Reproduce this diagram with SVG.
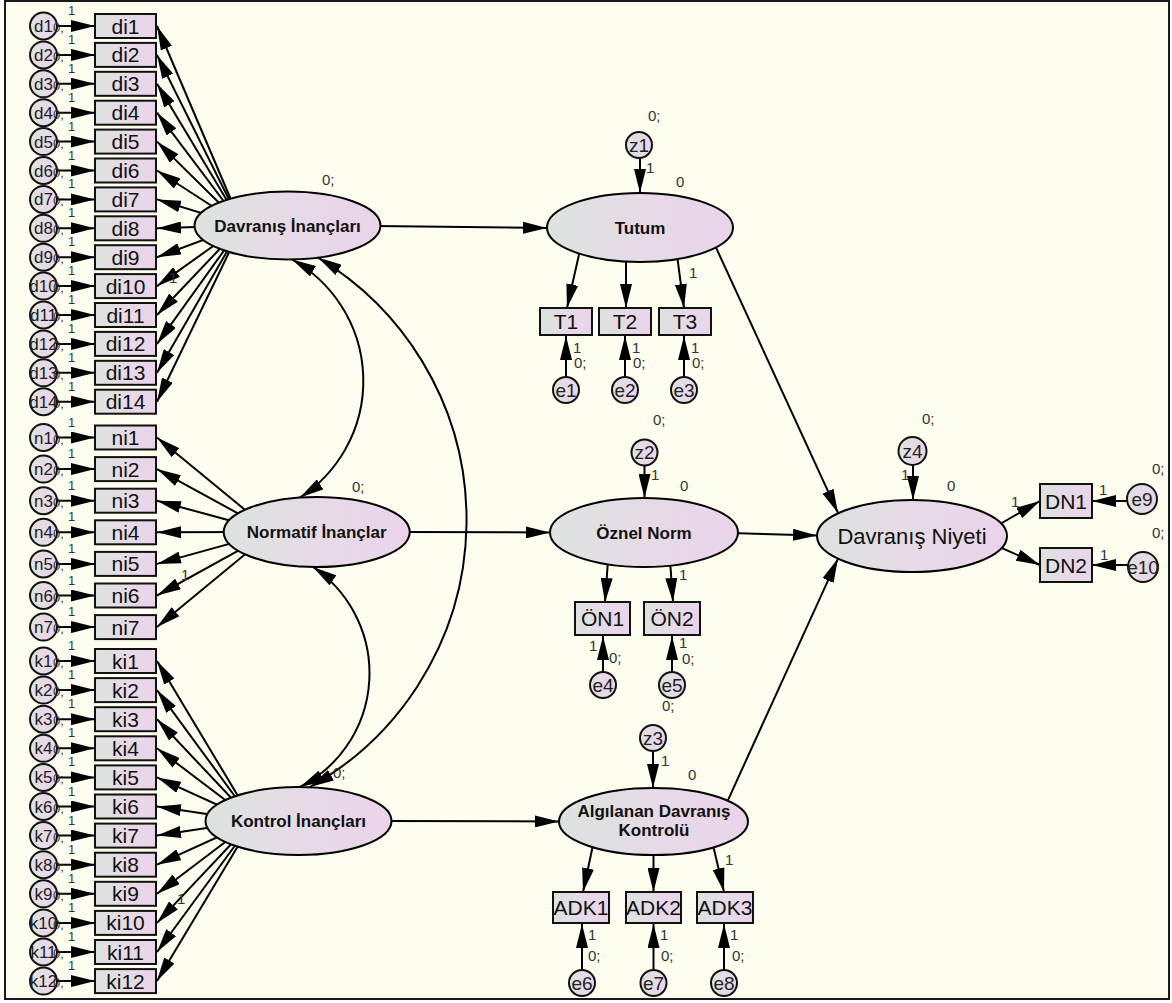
<svg xmlns="http://www.w3.org/2000/svg" width="1172" height="1003" viewBox="0 0 1172 1003">
<defs>
  <linearGradient id="g" x1="0" y1="0" x2="1" y2="0">
    <stop offset="0" stop-color="#DCE3DF"/>
    <stop offset="0.55" stop-color="#E6DAE6"/>
    <stop offset="1" stop-color="#EBD3EA"/>
  </linearGradient>
  <marker id="ah" viewBox="0 0 24 12" refX="24" refY="6" markerWidth="24" markerHeight="12" markerUnits="userSpaceOnUse" orient="auto">
    <path d="M0,0 L24,6 L0,12 z" fill="#000"/>
  </marker>
  <marker id="ah2" viewBox="0 0 24 12" refX="24" refY="6" markerWidth="24" markerHeight="12" markerUnits="userSpaceOnUse" orient="auto-start-reverse">
    <path d="M0,0 L24,6 L0,12 z" fill="#000"/>
  </marker>
  <style>
    .ln { stroke:#000; stroke-width:2; fill:none; marker-end:url(#ah); }
    .cv { stroke:#000; stroke-width:2; fill:none; marker-start:url(#ah2); marker-end:url(#ah2); }
    .box { fill:url(#g); stroke:#111; stroke-width:2; }
    .ell { fill:url(#g); stroke:#000; stroke-width:2; }
    .cir { fill:url(#g); stroke:#111; stroke-width:2; }
    text { font-family:"Liberation Sans", Arial, sans-serif; }
    .lab { font-size:21px; text-anchor:middle; fill:#111; }
    .lat { font-size:17px; font-weight:bold; text-anchor:middle; fill:#111; }
    .cl { font-size:17px; text-anchor:middle; fill:#222; }
    .el { font-size:19px; text-anchor:middle; fill:#222; }
    .sm { font-size:15px; fill:#333; }
    .s1 { font-size:13px; fill:#333; }
  </style>
</defs>

<!-- canvas and frame -->
<rect x="0" y="0" width="1172" height="1003" fill="#ffffff"/>
<rect x="5" y="1" width="1164" height="998" fill="#FEFEF0" stroke="#1a1a1a" stroke-width="2"/>

<!-- paths -->
<g id="connectors">
  <!-- error terms into indicators, left column -->
  <line class="ln" x1="57" y1="26" x2="95" y2="26"/>
  <line class="ln" x1="57" y1="54.9" x2="95" y2="54.9"/>
  <line class="ln" x1="57" y1="83.8" x2="95" y2="83.8"/>
  <line class="ln" x1="57" y1="112.7" x2="95" y2="112.7"/>
  <line class="ln" x1="57" y1="141.6" x2="95" y2="141.6"/>
  <line class="ln" x1="57" y1="170.5" x2="95" y2="170.5"/>
  <line class="ln" x1="57" y1="199.4" x2="95" y2="199.4"/>
  <line class="ln" x1="57" y1="228.3" x2="95" y2="228.3"/>
  <line class="ln" x1="57" y1="257.2" x2="95" y2="257.2"/>
  <line class="ln" x1="57" y1="286.1" x2="95" y2="286.1"/>
  <line class="ln" x1="57" y1="315" x2="95" y2="315"/>
  <line class="ln" x1="57" y1="343.9" x2="95" y2="343.9"/>
  <line class="ln" x1="57" y1="372.8" x2="95" y2="372.8"/>
  <line class="ln" x1="57" y1="401.7" x2="95" y2="401.7"/>
  <line class="ln" x1="57" y1="437.5" x2="95" y2="437.5"/>
  <line class="ln" x1="57" y1="469.1" x2="95" y2="469.1"/>
  <line class="ln" x1="57" y1="500.7" x2="95" y2="500.7"/>
  <line class="ln" x1="57" y1="532.3" x2="95" y2="532.3"/>
  <line class="ln" x1="57" y1="563.9" x2="95" y2="563.9"/>
  <line class="ln" x1="57" y1="595.5" x2="95" y2="595.5"/>
  <line class="ln" x1="57" y1="627.1" x2="95" y2="627.1"/>
  <line class="ln" x1="57" y1="661" x2="95" y2="661"/>
  <line class="ln" x1="57" y1="690.1" x2="95" y2="690.1"/>
  <line class="ln" x1="57" y1="719.2" x2="95" y2="719.2"/>
  <line class="ln" x1="57" y1="748.3" x2="95" y2="748.3"/>
  <line class="ln" x1="57" y1="777.4" x2="95" y2="777.4"/>
  <line class="ln" x1="57" y1="806.5" x2="95" y2="806.5"/>
  <line class="ln" x1="57" y1="835.6" x2="95" y2="835.6"/>
  <line class="ln" x1="57" y1="864.7" x2="95" y2="864.7"/>
  <line class="ln" x1="57" y1="893.8" x2="95" y2="893.8"/>
  <line class="ln" x1="57" y1="922.9" x2="95" y2="922.9"/>
  <line class="ln" x1="57" y1="952" x2="95" y2="952"/>
  <line class="ln" x1="57" y1="981.1" x2="95" y2="981.1"/>

  <!-- Davranış İnançları loadings -->
  <line class="ln" x1="242" y1="225.5" x2="157" y2="26"/>
  <line class="ln" x1="242" y1="225.5" x2="157" y2="54.9"/>
  <line class="ln" x1="242" y1="225.5" x2="157" y2="83.8"/>
  <line class="ln" x1="242" y1="225.5" x2="157" y2="112.7"/>
  <line class="ln" x1="242" y1="225.5" x2="157" y2="141.6"/>
  <line class="ln" x1="242" y1="225.5" x2="157" y2="170.5"/>
  <line class="ln" x1="242" y1="225.5" x2="157" y2="199.4"/>
  <line class="ln" x1="242" y1="225.5" x2="157" y2="228.3"/>
  <line class="ln" x1="242" y1="225.5" x2="157" y2="257.2"/>
  <line class="ln" x1="242" y1="225.5" x2="157" y2="286.1"/>
  <line class="ln" x1="242" y1="225.5" x2="157" y2="315"/>
  <line class="ln" x1="242" y1="225.5" x2="157" y2="343.9"/>
  <line class="ln" x1="242" y1="225.5" x2="157" y2="372.8"/>
  <line class="ln" x1="242" y1="225.5" x2="157" y2="401.7"/>

  <!-- Normatif İnançlar loadings -->
  <line class="ln" x1="272" y1="532" x2="157" y2="437.5"/>
  <line class="ln" x1="272" y1="532" x2="157" y2="469.1"/>
  <line class="ln" x1="272" y1="532" x2="157" y2="500.7"/>
  <line class="ln" x1="272" y1="532" x2="157" y2="532.3"/>
  <line class="ln" x1="272" y1="532" x2="157" y2="563.9"/>
  <line class="ln" x1="272" y1="532" x2="157" y2="595.5"/>
  <line class="ln" x1="272" y1="532" x2="157" y2="627.1"/>

  <!-- Kontrol İnançları loadings -->
  <line class="ln" x1="253" y1="821" x2="157" y2="661"/>
  <line class="ln" x1="253" y1="821" x2="157" y2="690.1"/>
  <line class="ln" x1="253" y1="821" x2="157" y2="719.2"/>
  <line class="ln" x1="253" y1="821" x2="157" y2="748.3"/>
  <line class="ln" x1="253" y1="821" x2="157" y2="777.4"/>
  <line class="ln" x1="253" y1="821" x2="157" y2="806.5"/>
  <line class="ln" x1="253" y1="821" x2="157" y2="835.6"/>
  <line class="ln" x1="253" y1="821" x2="157" y2="864.7"/>
  <line class="ln" x1="253" y1="821" x2="157" y2="893.8"/>
  <line class="ln" x1="253" y1="821" x2="157" y2="922.9"/>
  <line class="ln" x1="253" y1="821" x2="157" y2="952"/>
  <line class="ln" x1="253" y1="821" x2="157" y2="981.1"/>

  <!-- covariances -->
  <path class="cv" d="M292,259.5 A139,139 0 0 1 300,497.5"/>
  <path class="cv" d="M318,257.6 A306,306 0 0 1 310,787"/>
  <path class="cv" d="M313,567 A128,128 0 0 1 300,787"/>

  <!-- structural paths -->
  <line class="ln" x1="375" y1="226" x2="547" y2="228"/>
  <line class="ln" x1="405" y1="532" x2="550" y2="532.5"/>
  <line class="ln" x1="385" y1="821" x2="559" y2="821.5"/>
  <line class="ln" x1="713" y1="241" x2="838" y2="513"/>
  <line class="ln" x1="730" y1="533" x2="817" y2="535.5"/>
  <line class="ln" x1="724.7" y1="807.3" x2="838" y2="558.6"/>

  <!-- Tutum measurement -->
  <line class="ln" x1="640" y1="158" x2="640" y2="193"/>
  <line class="ln" x1="580" y1="250" x2="567" y2="308"/>
  <line class="ln" x1="626" y1="255" x2="626" y2="308"/>
  <line class="ln" x1="677" y1="255" x2="684" y2="308"/>
  <line class="ln" x1="566" y1="377" x2="566" y2="336"/>
  <line class="ln" x1="625" y1="377" x2="625" y2="336"/>
  <line class="ln" x1="684" y1="377" x2="684" y2="336"/>

  <!-- Öznel Norm measurement -->
  <line class="ln" x1="644.5" y1="465.5" x2="644.5" y2="498"/>
  <line class="ln" x1="608" y1="560" x2="605" y2="602"/>
  <line class="ln" x1="670" y1="560" x2="673" y2="602"/>
  <line class="ln" x1="603" y1="672" x2="603" y2="636"/>
  <line class="ln" x1="672" y1="672" x2="672" y2="636"/>

  <!-- Algılanan Davranış Kontrolü measurement -->
  <line class="ln" x1="653" y1="751" x2="653" y2="788"/>
  <line class="ln" x1="593" y1="845" x2="583" y2="892"/>
  <line class="ln" x1="653.5" y1="850" x2="653.5" y2="892"/>
  <line class="ln" x1="713" y1="845" x2="724" y2="892"/>
  <line class="ln" x1="582" y1="970" x2="582" y2="924"/>
  <line class="ln" x1="653.5" y1="970" x2="653.5" y2="924"/>
  <line class="ln" x1="724" y1="970" x2="724" y2="924"/>

  <!-- Davranış Niyeti measurement -->
  <line class="ln" x1="913" y1="465" x2="913" y2="500"/>
  <line class="ln" x1="995" y1="527" x2="1040" y2="501"/>
  <line class="ln" x1="995" y1="545" x2="1040" y2="565"/>
  <line class="ln" x1="1127" y1="501" x2="1092" y2="501"/>
  <line class="ln" x1="1128" y1="565" x2="1092" y2="565"/>
</g>

<!-- latent variables -->
<g id="davranis-inanclari"><ellipse class="ell" cx="287.5" cy="225.5" rx="93" ry="34"/><text class="lat" x="287.5" y="231.5">Davranış İnançları</text></g>
<g id="normatif-inanclar"><ellipse class="ell" cx="316.7" cy="532" rx="93" ry="35"/><text class="lat" x="316.7" y="538">Normatif İnançlar</text></g>
<g id="kontrol-inanclari"><ellipse class="ell" cx="298.5" cy="821" rx="93" ry="34"/><text class="lat" x="298.5" y="827">Kontrol İnançları</text></g>
<g id="tutum"><ellipse class="ell" cx="640" cy="227.5" rx="93" ry="34.5"/><text class="lat" x="640" y="233.5">Tutum</text></g>
<g id="oznel-norm"><ellipse class="ell" cx="644" cy="532.5" rx="94" ry="34.5"/><text class="lat" x="644" y="538.5">Öznel Norm</text></g>
<g id="adk"><ellipse class="ell" cx="653.5" cy="821.5" rx="94.5" ry="33.5"/><text class="lat" x="654" y="817">Algılanan Davranış</text><text class="lat" x="654" y="836">Kontrolü</text></g>
<g id="davranis-niyeti"><ellipse class="ell" cx="912" cy="536" rx="95" ry="36"/><text class="lab" x="912" y="543.5" style="font-size:22px">Davranış Niyeti</text></g>

<!-- Davranış İnançları indicators -->
<g id="di1"><rect class="box" x="95" y="14" width="61" height="24"/><text class="lab" x="125.5" y="33.5">di1</text></g>
<g id="di2"><rect class="box" x="95" y="42.9" width="61" height="24"/><text class="lab" x="125.5" y="62.4">di2</text></g>
<g id="di3"><rect class="box" x="95" y="71.8" width="61" height="24"/><text class="lab" x="125.5" y="91.3">di3</text></g>
<g id="di4"><rect class="box" x="95" y="100.7" width="61" height="24"/><text class="lab" x="125.5" y="120.2">di4</text></g>
<g id="di5"><rect class="box" x="95" y="129.6" width="61" height="24"/><text class="lab" x="125.5" y="149.1">di5</text></g>
<g id="di6"><rect class="box" x="95" y="158.5" width="61" height="24"/><text class="lab" x="125.5" y="178">di6</text></g>
<g id="di7"><rect class="box" x="95" y="187.4" width="61" height="24"/><text class="lab" x="125.5" y="206.9">di7</text></g>
<g id="di8"><rect class="box" x="95" y="216.3" width="61" height="24"/><text class="lab" x="125.5" y="235.8">di8</text></g>
<g id="di9"><rect class="box" x="95" y="245.2" width="61" height="24"/><text class="lab" x="125.5" y="264.7">di9</text></g>
<g id="di10"><rect class="box" x="95" y="274.1" width="61" height="24"/><text class="lab" x="125.5" y="293.6">di10</text></g>
<g id="di11"><rect class="box" x="95" y="303" width="61" height="24"/><text class="lab" x="125.5" y="322.5">di11</text></g>
<g id="di12"><rect class="box" x="95" y="331.9" width="61" height="24"/><text class="lab" x="125.5" y="351.4">di12</text></g>
<g id="di13"><rect class="box" x="95" y="360.8" width="61" height="24"/><text class="lab" x="125.5" y="380.3">di13</text></g>
<g id="di14"><rect class="box" x="95" y="389.7" width="61" height="24"/><text class="lab" x="125.5" y="409.2">di14</text></g>

<!-- Normatif İnançlar indicators -->
<g id="ni1"><rect class="box" x="95" y="425.5" width="61" height="24"/><text class="lab" x="125.5" y="445">ni1</text></g>
<g id="ni2"><rect class="box" x="95" y="457.1" width="61" height="24"/><text class="lab" x="125.5" y="476.6">ni2</text></g>
<g id="ni3"><rect class="box" x="95" y="488.7" width="61" height="24"/><text class="lab" x="125.5" y="508.2">ni3</text></g>
<g id="ni4"><rect class="box" x="95" y="520.3" width="61" height="24"/><text class="lab" x="125.5" y="539.8">ni4</text></g>
<g id="ni5"><rect class="box" x="95" y="551.9" width="61" height="24"/><text class="lab" x="125.5" y="571.4">ni5</text></g>
<g id="ni6"><rect class="box" x="95" y="583.5" width="61" height="24"/><text class="lab" x="125.5" y="603">ni6</text></g>
<g id="ni7"><rect class="box" x="95" y="615.1" width="61" height="24"/><text class="lab" x="125.5" y="634.6">ni7</text></g>

<!-- Kontrol İnançları indicators -->
<g id="ki1"><rect class="box" x="95" y="649" width="61" height="24"/><text class="lab" x="125.5" y="668.5">ki1</text></g>
<g id="ki2"><rect class="box" x="95" y="678.1" width="61" height="24"/><text class="lab" x="125.5" y="697.6">ki2</text></g>
<g id="ki3"><rect class="box" x="95" y="707.2" width="61" height="24"/><text class="lab" x="125.5" y="726.7">ki3</text></g>
<g id="ki4"><rect class="box" x="95" y="736.3" width="61" height="24"/><text class="lab" x="125.5" y="755.8">ki4</text></g>
<g id="ki5"><rect class="box" x="95" y="765.4" width="61" height="24"/><text class="lab" x="125.5" y="784.9">ki5</text></g>
<g id="ki6"><rect class="box" x="95" y="794.5" width="61" height="24"/><text class="lab" x="125.5" y="814">ki6</text></g>
<g id="ki7"><rect class="box" x="95" y="823.6" width="61" height="24"/><text class="lab" x="125.5" y="843.1">ki7</text></g>
<g id="ki8"><rect class="box" x="95" y="852.7" width="61" height="24"/><text class="lab" x="125.5" y="872.2">ki8</text></g>
<g id="ki9"><rect class="box" x="95" y="881.8" width="61" height="24"/><text class="lab" x="125.5" y="901.3">ki9</text></g>
<g id="ki10"><rect class="box" x="95" y="910.9" width="61" height="24"/><text class="lab" x="125.5" y="930.4">ki10</text></g>
<g id="ki11"><rect class="box" x="95" y="940" width="61" height="24"/><text class="lab" x="125.5" y="959.5">ki11</text></g>
<g id="ki12"><rect class="box" x="95" y="969.1" width="61" height="24"/><text class="lab" x="125.5" y="988.6">ki12</text></g>

<!-- left-column error terms -->
<g id="d1"><circle class="cir" cx="43.5" cy="26" r="13.5"/><text class="cl" x="43.5" y="32">d1</text></g>
<g id="d2"><circle class="cir" cx="43.5" cy="54.9" r="13.5"/><text class="cl" x="43.5" y="60.9">d2</text></g>
<g id="d3"><circle class="cir" cx="43.5" cy="83.8" r="13.5"/><text class="cl" x="43.5" y="89.8">d3</text></g>
<g id="d4"><circle class="cir" cx="43.5" cy="112.7" r="13.5"/><text class="cl" x="43.5" y="118.7">d4</text></g>
<g id="d5"><circle class="cir" cx="43.5" cy="141.6" r="13.5"/><text class="cl" x="43.5" y="147.6">d5</text></g>
<g id="d6"><circle class="cir" cx="43.5" cy="170.5" r="13.5"/><text class="cl" x="43.5" y="176.5">d6</text></g>
<g id="d7"><circle class="cir" cx="43.5" cy="199.4" r="13.5"/><text class="cl" x="43.5" y="205.4">d7</text></g>
<g id="d8"><circle class="cir" cx="43.5" cy="228.3" r="13.5"/><text class="cl" x="43.5" y="234.3">d8</text></g>
<g id="d9"><circle class="cir" cx="43.5" cy="257.2" r="13.5"/><text class="cl" x="43.5" y="263.2">d9</text></g>
<g id="d10"><circle class="cir" cx="43.5" cy="286.1" r="13.5"/><text class="cl" x="43.5" y="292.1">d10</text></g>
<g id="d11"><circle class="cir" cx="43.5" cy="315" r="13.5"/><text class="cl" x="43.5" y="321">d11</text></g>
<g id="d12"><circle class="cir" cx="43.5" cy="343.9" r="13.5"/><text class="cl" x="43.5" y="349.9">d12</text></g>
<g id="d13"><circle class="cir" cx="43.5" cy="372.8" r="13.5"/><text class="cl" x="43.5" y="378.8">d13</text></g>
<g id="d14"><circle class="cir" cx="43.5" cy="401.7" r="13.5"/><text class="cl" x="43.5" y="407.7">d14</text></g>
<g id="n1"><circle class="cir" cx="43.5" cy="437.5" r="13.5"/><text class="cl" x="43.5" y="443.5">n1</text></g>
<g id="n2"><circle class="cir" cx="43.5" cy="469.1" r="13.5"/><text class="cl" x="43.5" y="475.1">n2</text></g>
<g id="n3"><circle class="cir" cx="43.5" cy="500.7" r="13.5"/><text class="cl" x="43.5" y="506.7">n3</text></g>
<g id="n4"><circle class="cir" cx="43.5" cy="532.3" r="13.5"/><text class="cl" x="43.5" y="538.3">n4</text></g>
<g id="n5"><circle class="cir" cx="43.5" cy="563.9" r="13.5"/><text class="cl" x="43.5" y="569.9">n5</text></g>
<g id="n6"><circle class="cir" cx="43.5" cy="595.5" r="13.5"/><text class="cl" x="43.5" y="601.5">n6</text></g>
<g id="n7"><circle class="cir" cx="43.5" cy="627.1" r="13.5"/><text class="cl" x="43.5" y="633.1">n7</text></g>
<g id="k1"><circle class="cir" cx="43.5" cy="661" r="13.5"/><text class="cl" x="43.5" y="667">k1</text></g>
<g id="k2"><circle class="cir" cx="43.5" cy="690.1" r="13.5"/><text class="cl" x="43.5" y="696.1">k2</text></g>
<g id="k3"><circle class="cir" cx="43.5" cy="719.2" r="13.5"/><text class="cl" x="43.5" y="725.2">k3</text></g>
<g id="k4"><circle class="cir" cx="43.5" cy="748.3" r="13.5"/><text class="cl" x="43.5" y="754.3">k4</text></g>
<g id="k5"><circle class="cir" cx="43.5" cy="777.4" r="13.5"/><text class="cl" x="43.5" y="783.4">k5</text></g>
<g id="k6"><circle class="cir" cx="43.5" cy="806.5" r="13.5"/><text class="cl" x="43.5" y="812.5">k6</text></g>
<g id="k7"><circle class="cir" cx="43.5" cy="835.6" r="13.5"/><text class="cl" x="43.5" y="841.6">k7</text></g>
<g id="k8"><circle class="cir" cx="43.5" cy="864.7" r="13.5"/><text class="cl" x="43.5" y="870.7">k8</text></g>
<g id="k9"><circle class="cir" cx="43.5" cy="893.8" r="13.5"/><text class="cl" x="43.5" y="899.8">k9</text></g>
<g id="k10"><circle class="cir" cx="43.5" cy="922.9" r="13.5"/><text class="cl" x="43.5" y="928.9">k10</text></g>
<g id="k11"><circle class="cir" cx="43.5" cy="952" r="13.5"/><text class="cl" x="43.5" y="958">k11</text></g>
<g id="k12"><circle class="cir" cx="43.5" cy="981.1" r="13.5"/><text class="cl" x="43.5" y="987.1">k12</text></g>

<!-- right-side indicators -->
<g id="T1"><rect class="box" x="540" y="308" width="52" height="27"/><text class="lab" x="566" y="329">T1</text></g>
<g id="T2"><rect class="box" x="599" y="308" width="52" height="27"/><text class="lab" x="625" y="329">T2</text></g>
<g id="T3"><rect class="box" x="659" y="308" width="52" height="27"/><text class="lab" x="685" y="329">T3</text></g>
<g id="ON1"><rect class="box" x="575" y="602" width="55" height="33"/><text class="lab" x="602.5" y="626">ÖN1</text></g>
<g id="ON2"><rect class="box" x="644" y="602" width="56" height="33"/><text class="lab" x="672" y="626">ÖN2</text></g>
<g id="ADK1"><rect class="box" x="553" y="892" width="56" height="31"/><text class="lab" x="581" y="915">ADK1</text></g>
<g id="ADK2"><rect class="box" x="626" y="892" width="55" height="31"/><text class="lab" x="653.5" y="915">ADK2</text></g>
<g id="ADK3"><rect class="box" x="697" y="892" width="56" height="31"/><text class="lab" x="725" y="915">ADK3</text></g>
<g id="DN1"><rect class="box" x="1040" y="484" width="52" height="34"/><text class="lab" x="1066" y="508.5">DN1</text></g>
<g id="DN2"><rect class="box" x="1040" y="548" width="52" height="34"/><text class="lab" x="1066" y="572.5">DN2</text></g>

<!-- disturbances and errors -->
<g id="z1"><circle class="cir" cx="639" cy="145" r="13"/><text class="el" x="639" y="151.5">z1</text></g>
<g id="z2"><circle class="cir" cx="644.5" cy="452.5" r="13"/><text class="el" x="644.5" y="459">z2</text></g>
<g id="z3"><circle class="cir" cx="653" cy="738" r="13"/><text class="el" x="653" y="744.5">z3</text></g>
<g id="z4"><circle class="cir" cx="912.5" cy="451" r="14"/><text class="el" x="912.5" y="457.5">z4</text></g>
<g id="e1"><circle class="cir" cx="566" cy="390" r="13"/><text class="el" x="566" y="396.5">e1</text></g>
<g id="e2"><circle class="cir" cx="625" cy="390" r="13"/><text class="el" x="625" y="396.5">e2</text></g>
<g id="e3"><circle class="cir" cx="684" cy="390" r="13"/><text class="el" x="684" y="396.5">e3</text></g>
<g id="e4"><circle class="cir" cx="603" cy="685" r="13"/><text class="el" x="603" y="691.5">e4</text></g>
<g id="e5"><circle class="cir" cx="672" cy="685" r="13"/><text class="el" x="672" y="691.5">e5</text></g>
<g id="e6"><circle class="cir" cx="582" cy="983" r="13"/><text class="el" x="582" y="989.5">e6</text></g>
<g id="e7"><circle class="cir" cx="653.5" cy="983" r="13"/><text class="el" x="653.5" y="989.5">e7</text></g>
<g id="e8"><circle class="cir" cx="724" cy="983" r="13"/><text class="el" x="724" y="989.5">e8</text></g>
<g id="e9"><circle class="cir" cx="1142" cy="499" r="15"/><text class="el" x="1142" y="505.5">e9</text></g>
<g id="e10"><circle class="cir" cx="1143" cy="567" r="15"/><text class="el" x="1143" y="573.5">e10</text></g>

<!-- parameter labels -->
<g id="params">
  <!-- left column: variances and fixed loadings -->
  <g class="s1">
    <text x="53" y="32">0;</text><text x="53" y="60.9">0;</text><text x="53" y="89.8">0;</text><text x="53" y="118.7">0;</text>
    <text x="53" y="147.6">0;</text><text x="53" y="176.5">0;</text><text x="53" y="205.4">0;</text><text x="53" y="234.3">0;</text>
    <text x="53" y="263.2">0;</text><text x="53" y="292.1">0;</text><text x="53" y="321">0;</text><text x="53" y="349.9">0;</text>
    <text x="53" y="378.8">0;</text><text x="53" y="407.7">0;</text>
    <text x="53" y="443.5">0;</text><text x="53" y="475.1">0;</text><text x="53" y="506.7">0;</text><text x="53" y="538.3">0;</text>
    <text x="53" y="569.9">0;</text><text x="53" y="601.5">0;</text><text x="53" y="633.1">0;</text>
    <text x="53" y="667">0;</text><text x="53" y="696.1">0;</text><text x="53" y="725.2">0;</text><text x="53" y="754.3">0;</text>
    <text x="53" y="783.4">0;</text><text x="53" y="812.5">0;</text><text x="53" y="841.6">0;</text><text x="53" y="870.7">0;</text>
    <text x="53" y="899.8">0;</text><text x="53" y="928.9">0;</text><text x="53" y="958">0;</text><text x="53" y="987.1">0;</text>

    <text x="68" y="15">1</text><text x="68" y="43.9">1</text><text x="68" y="72.8">1</text><text x="68" y="101.7">1</text>
    <text x="68" y="130.6">1</text><text x="68" y="159.5">1</text><text x="68" y="188.4">1</text><text x="68" y="217.3">1</text>
    <text x="68" y="246.2">1</text><text x="68" y="275.1">1</text><text x="68" y="304">1</text><text x="68" y="332.9">1</text>
    <text x="68" y="361.8">1</text><text x="68" y="390.7">1</text>
    <text x="68" y="426.5">1</text><text x="68" y="458.1">1</text><text x="68" y="489.7">1</text><text x="68" y="521.3">1</text>
    <text x="68" y="552.9">1</text><text x="68" y="584.5">1</text><text x="68" y="616.1">1</text>
    <text x="68" y="650">1</text><text x="68" y="679.1">1</text><text x="68" y="708.2">1</text><text x="68" y="737.3">1</text>
    <text x="68" y="766.4">1</text><text x="68" y="795.5">1</text><text x="68" y="824.6">1</text><text x="68" y="853.7">1</text>
    <text x="68" y="882.8">1</text><text x="68" y="911.9">1</text><text x="68" y="941">1</text><text x="68" y="970.1">1</text>
  </g>

  <g class="sm">
    <!-- exogenous latent variances and fixed loadings -->
    <text x="322" y="185">0;</text>
    <text x="352" y="492">0;</text>
    <text x="333" y="778">0;</text>
    <text x="169" y="283">1</text>
    <text x="181" y="580">1</text>
    <text x="177" y="904">1</text>

    <!-- Tutum -->
    <text x="648" y="121">0;</text>
    <text x="646" y="173">1</text>
    <text x="676" y="187">0</text>
    <text x="689" y="278">1</text>
    <text x="573" y="353">1</text><text x="574" y="368">0;</text>
    <text x="632" y="353">1</text><text x="633" y="368">0;</text>
    <text x="691" y="353">1</text><text x="692" y="368">0;</text>

    <!-- Öznel Norm -->
    <text x="653" y="425">0;</text>
    <text x="651" y="480">1</text>
    <text x="680" y="491">0</text>
    <text x="679" y="580">1</text>
    <text x="589" y="651">1</text><text x="609" y="663">0;</text>
    <text x="679" y="648">1</text><text x="682" y="664">0;</text>

    <!-- Algılanan Davranış Kontrolü -->
    <text x="662" y="711">0;</text>
    <text x="661" y="766">1</text>
    <text x="688" y="780">0</text>
    <text x="725" y="865">1</text>
    <text x="588" y="940">1</text><text x="588" y="961">0;</text>
    <text x="660" y="940">1</text><text x="661" y="961">0;</text>
    <text x="730" y="940">1</text><text x="732" y="961">0;</text>

    <!-- Davranış Niyeti -->
    <text x="922" y="424">0;</text>
    <text x="901" y="480">1</text>
    <text x="947" y="491">0</text>
    <text x="1011" y="507">1</text>
    <text x="1099" y="495">1</text>
    <text x="1152" y="474">0;</text>
    <text x="1100" y="560">1</text>
    <text x="1152" y="538">0;</text>
  </g>
</g>
</svg>
